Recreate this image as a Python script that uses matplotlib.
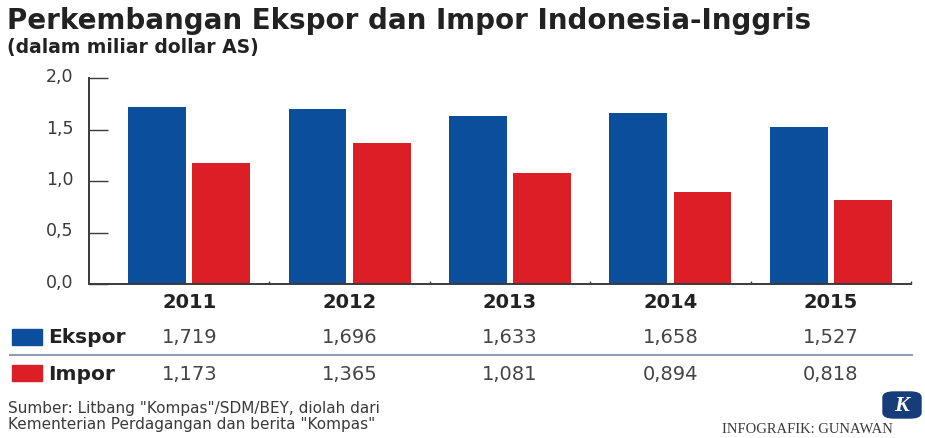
import matplotlib
matplotlib.use('Agg')
import matplotlib.pyplot as plt
import matplotlib.ticker as ticker
import matplotlib.transforms as mtransforms
from matplotlib.patches import Rectangle, FancyBboxPatch
from matplotlib.lines import Line2D

years = ['2011', '2012', '2013', '2014', '2015']
ekspor = [1.719, 1.696, 1.633, 1.658, 1.527]
impor = [1.173, 1.365, 1.081, 0.894, 0.818]
yticks = [0.0, 0.5, 1.0, 1.5, 2.0]

title = 'Perkembangan Ekspor dan Impor Indonesia-Inggris'
subtitle = '(dalam miliar dollar AS)'
source = ['Sumber: Litbang "Kompas"/SDM/BEY, diolah dari',
          'Kementerian Perdagangan dan berita "Kompas"']
credit = 'INFOGRAFIK: GUNAWAN'

BLUE = '#0b4f9c'
RED = '#dc1f26'
DARK = '#222222'
GREY = '#3a3a3a'

W, H = 925, 439
fig = plt.figure(figsize=(W / 100, H / 100), dpi=100)

def fx(px):
    return px / W

def fy(py):
    return 1 - py / H

ax = fig.add_axes([fx(89), fy(285), fx(911) - fx(89), (285 - 79) / H])

xs = list(range(len(years)))
bw = 0.36
ax.bar([x - 0.2 for x in xs], ekspor, width=bw, color=BLUE, zorder=2)
ax.bar([x + 0.2 for x in xs], impor, width=bw, color=RED, zorder=2)

ax.set_xlim(-0.625, 4.5)
ax.set_ylim(0, 2.0)
for s in ['top', 'right']:
    ax.spines[s].set_visible(False)
for s in ['left', 'bottom']:
    ax.spines[s].set_color(GREY)
    ax.spines[s].set_linewidth(1.4)

ax.set_yticks(yticks)
ax.yaxis.set_major_formatter(ticker.FuncFormatter(lambda v, pos: ('%.1f' % v).replace('.', ',')))
ax.tick_params(axis='y', direction='in', length=14, width=1.0, color=GREY,
               labelsize=12.5, labelcolor=GREY, pad=11)
off = mtransforms.ScaledTranslation(0, 4 / 100, fig.dpi_scale_trans)
for lab in ax.get_yticklabels():
    lab.set_transform(lab.get_transform() + off)

ax.set_xticks([0.5, 1.5, 2.5, 3.5, 4.5])
ax.set_xticklabels([])
ax.tick_params(axis='x', direction='in', length=2.5, width=1.0, color=GREY)

# titles
fig.text(fx(7), fy(21), title, fontsize=20, fontweight='bold', color=DARK, va='center')
fig.text(fx(7), fy(47), subtitle, fontsize=13.5, fontweight='bold', color=DARK, va='center')

# table under the chart
xt = mtransforms.blended_transform_factory(ax.transData, fig.transFigure)
for i, yr in enumerate(years):
    fig.text(i, fy(303), yr, transform=xt, fontsize=14, fontweight='bold',
             color=DARK, ha='center', va='center')
    fig.text(i, fy(338), ('%.3f' % ekspor[i]).replace('.', ','), transform=xt,
             fontsize=14, color='#444444', ha='center', va='center')
    fig.text(i, fy(374), ('%.3f' % impor[i]).replace('.', ','), transform=xt,
             fontsize=14, color='#444444', ha='center', va='center')

fig.add_artist(Rectangle((fx(12), fy(346)), fx(30), 16 / H, color=BLUE, transform=fig.transFigure))
fig.add_artist(Rectangle((fx(12), fy(382)), fx(30), 16 / H, color=RED, transform=fig.transFigure))
fig.text(fx(48), fy(338), 'Ekspor', fontsize=14.5, fontweight='bold', color=DARK, va='center')
fig.text(fx(48), fy(374), 'Impor', fontsize=14.5, fontweight='bold', color=DARK, va='center')
fig.add_artist(Line2D([fx(10), fx(912)], [fy(356), fy(356)], color='#8e9db8', lw=1.5,
                      transform=fig.transFigure))

# source and credit
fig.text(fx(8), fy(409), source[0], fontsize=11, color=GREY, va='center')
fig.text(fx(8), fy(425), source[1], fontsize=11, color=GREY, va='center')

fig.add_artist(FancyBboxPatch((fx(883), fy(419)), fx(38), 26 / H,
                              boxstyle='round,pad=0,rounding_size=0.012',
                              color='#173c7a', transform=fig.transFigure))
fig.text(fx(902), fy(406), 'K', fontsize=16, fontweight='bold', fontstyle='italic',
         family='Liberation Serif', color='white', ha='center', va='center')
fig.text(fx(722), fy(430), credit, fontsize=10.5, family='Liberation Serif', color=GREY, va='center')

fig.savefig('out.png', dpi=100)
